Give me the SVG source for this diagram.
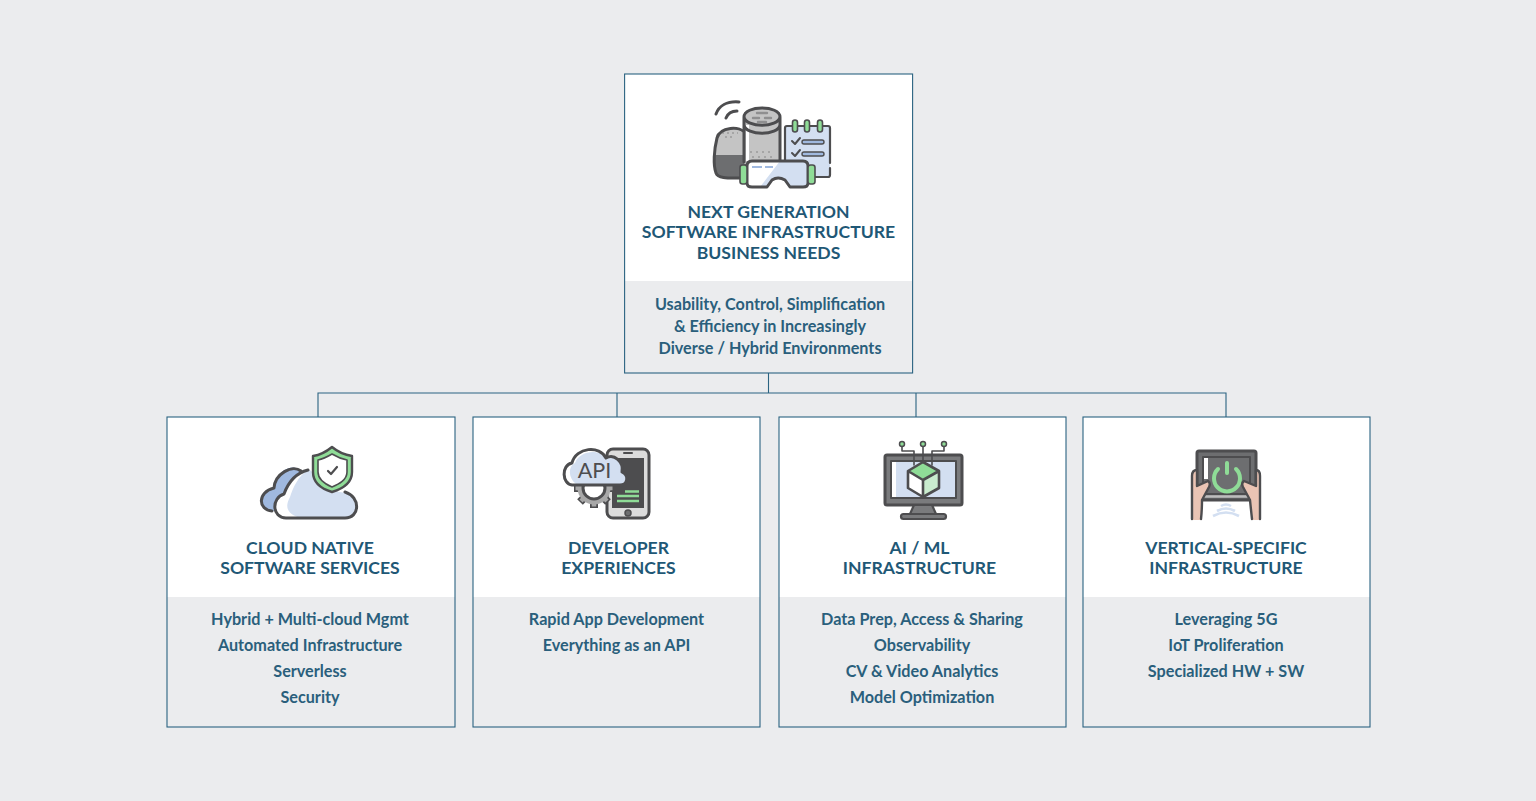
<svg xmlns="http://www.w3.org/2000/svg" width="1536" height="801" viewBox="0 0 1536 801">
<style>
.card{fill:#fff;stroke:none}
.band{fill:#ebecee}
.frame{fill:none;stroke:#2a6381;stroke-width:1.1}
.h{font-family:"Lato","Liberation Sans",sans-serif;font-weight:700;font-size:17.6px;fill:#1f5876;text-anchor:middle}
.b{font-family:"Lato","Liberation Sans",sans-serif;font-weight:700;font-size:16.2px;fill:#2a5f7c;text-anchor:middle}
.ln{fill:none;stroke:#4d4d4f;stroke-width:3;stroke-linecap:round;stroke-linejoin:round}
.thin{fill:none;stroke:#4d4d4f;stroke-width:2;stroke-linecap:round;stroke-linejoin:round}
.conn{fill:none;stroke:#2a6381;stroke-width:1.1}
.g{fill:#8fdc97}.bl{fill:#d3dff1}
.cap{fill:#8fdc97;stroke:#4d4d4f;stroke-width:1.6}
</style>
<rect width="1536" height="801" fill="#ebecee"/>
<g id="connectors">
<path class="conn" d="M768.5 373V393M318 417V393H1226V417M617 393V417M916 393V417"/>
</g>
<g id="node-top">
<rect class="card" x="625" y="74" width="287" height="299"/>
<rect class="band" x="625" y="281" width="287" height="92"/>
<rect class="frame" x="624.6" y="74" width="288" height="299"/>
<g id="icon-top">
<path class="ln" d="M716 114C719 106 727 101 739 102M726 118C728 113 732 111 737 111"/>
<path d="M716 138C716 126 744 126 746 138V178H724C716 178 714 172 714 165Z" fill="#c4c4c4"/>
<path d="M715 155H746V178H724C716 178 714 172 714 165Z" fill="#6d6e70"/>
<path d="M722 133H738M725 137H735" stroke="#9a9a9a" stroke-width="1.6" stroke-dasharray="2 3" fill="none"/>
<path class="ln" d="M746 134C740 125 720 127 717 138C714 150 713 165 716 173C718 179 730 178 741 178"/>
<rect x="744" y="112" width="36" height="52" fill="#c4c4c4"/>
<rect x="746" y="125" width="3" height="36" fill="#fff"/>
<path d="M744 117C744 105 780 105 780 117C780 129 744 129 744 117Z" fill="#c4c4c4"/>
<path class="ln" d="M744 117C744 105 780 105 780 117V164M744 117V162M744 117C746 128 778 128 780 117M744 125C746 136 778 136 780 125"/>
<path d="M757 113H767M753 118H759M765 118H771M758 122H766" stroke="#8f8f90" stroke-width="2.4" stroke-linecap="round" fill="none"/>
<path d="M750 152H774M752 157H772" stroke="#9a9a9a" stroke-width="1.6" stroke-dasharray="2 4" fill="none"/>
<path d="M785 126H830V177H800V160H785Z" fill="#d3dff1"/>
<path class="thin" d="M785 160V128Q785 126 787 126H828Q830 126 830 128V163M830 168V175Q830 177 828 177H810" style="stroke-width:2.2"/>
<rect x="792.5" y="120" width="5" height="12" rx="2.5" class="cap"/>
<rect x="804.5" y="120" width="5" height="12" rx="2.5" class="cap"/>
<rect x="817.5" y="120" width="5" height="12" rx="2.5" class="cap"/>
<path class="thin" d="M792 141L795 144L800 138M792 153L795 156L800 150"/>
<rect x="802" y="140" width="22" height="4" rx="2" fill="#a0b9df" stroke="#4d4d4f" stroke-width="1.4"/>
<rect x="802" y="152" width="22" height="4" rx="2" fill="#a0b9df" stroke="#4d4d4f" stroke-width="1.4"/>
<path d="M747 166Q747 161 752 161H803Q808 161 808 166V183Q808 187 803 187H790L785 180Q778 176 772 180L767 187H752Q747 187 747 183Z" fill="#fff"/>
<path d="M780 161H803Q808 161 808 166V183Q808 187 803 187H790L785 180Q778 176 772 180L767 187H760Z" fill="#d3dff1"/>
<path class="ln" d="M747 166Q747 161 752 161H803Q808 161 808 166V183Q808 187 803 187H790L785 180Q778 176 772 180L767 187H752Q747 187 747 183Z"/>
<rect x="740" y="165" width="7" height="19" rx="2.5" class="cap"/>
<rect x="808" y="165" width="7" height="19" rx="2.5" class="cap"/>
<path d="M752 167H762M765 167H773" stroke="#a0b9df" stroke-width="2" fill="none"/>
</g>
<text class="h" x="768.5" y="217.5">NEXT GENERATION</text>
<text class="h" x="768.5" y="238">SOFTWARE INFRASTRUCTURE</text>
<text class="h" x="768.5" y="258.5">BUSINESS NEEDS</text>
<text class="b" x="770" y="309.5">Usability, Control, Simplification</text>
<text class="b" x="770" y="331.5">&amp; Efficiency in Increasingly</text>
<text class="b" x="770" y="353.5">Diverse / Hybrid Environments</text>
</g>
<g id="node-cloud">
<rect class="card" x="167" y="417" width="288" height="310"/>
<rect class="band" x="167" y="597" width="288" height="130"/>
<rect class="frame" x="167" y="417" width="288" height="310"/>
<g id="icon-cloud">
<path d="M272 511C258 510 257 492 274 488C274 474 290 462 300 470L288 511Z" fill="#a0b9df"/>
<path class="ln" d="M272 511C258 510 257 492 274 488C275 474 292 464 301 471"/>
<path d="M286 518C272 518 271 498 284 494C288 482 296 474 310 470L330 490L345 493C360 496 360 518 345 518Z" fill="#d3dff1"/>
<path d="M286 518C272 518 271 498 284 494C288 482 296 474 308 470C298 476 293 488 290 497C284 508 288 514 300 518Z" fill="#fff"/>
<path class="ln" d="M308 470C296 473 288 483 284 494C271 498 272 518 286 518H345C360 518 361 497 345 492"/>
<path d="M332 447C338 452 345 455 352 456V472C352 483 342 489 332 492C322 489 313 483 313 472V456C320 455 326 452 332 447Z" fill="#8fdc97" stroke="#4d4d4f" stroke-width="2.4" stroke-linejoin="round"/>
<path d="M332 454C337 457 342 459 347 460V472C347 480 339 484 332 487C325 484 318 480 318 472V460C323 459 327 457 332 454Z" fill="#fff" stroke="#4d4d4f" stroke-width="1.6" stroke-linejoin="round"/>
<path class="thin" d="M328 471L331 474L337 467" style="stroke-width:2.2"/>
</g>
<text class="h" x="310" y="553.5">CLOUD NATIVE</text>
<text class="h" x="310" y="573.5">SOFTWARE SERVICES</text>
<text class="b" x="310" y="624.5">Hybrid + Multi-cloud Mgmt</text>
<text class="b" x="310" y="650.5">Automated Infrastructure</text>
<text class="b" x="310" y="676.5">Serverless</text>
<text class="b" x="310" y="702.5">Security</text>
</g>
<g id="node-dev">
<rect class="card" x="473" y="417" width="287" height="310"/>
<rect class="band" x="473" y="597" width="287" height="130"/>
<rect class="frame" x="473" y="417" width="287" height="310"/>
<g id="icon-dev">
<rect x="607" y="449" width="42" height="69" rx="6" fill="#dcdcdc"/>
<rect x="612" y="458" width="32" height="50" fill="#4d4d4f"/>
<rect x="607" y="449" width="42" height="69" rx="6" class="ln"/>
<path d="M624 453H632" class="thin"/>
<circle cx="628" cy="513" r="3" fill="#6d6e70" stroke="#4d4d4f" stroke-width="1.5"/>
<path d="M625 491.5H639M617 496H639M617 501H639" stroke="#8fdc97" stroke-width="2.4" fill="none"/>
<g id="gear">
<path d="M574 488H614M580 474L608 502M594 468V508M608 474L580 502" stroke="#4d4d4f" stroke-width="8" fill="none"/>
<path d="M575.5 488H612.5M581 475L607 501M594 469.5V506.5M607 475L581 501" stroke="#a8a8a8" stroke-width="4.5" fill="none"/>
<circle cx="594" cy="488" r="16.5" fill="#a8a8a8"/>
<circle cx="594" cy="488" r="11" fill="#fff" stroke="#4d4d4f" stroke-width="3"/>
</g>
<path d="M572 485C562 484 561 465 572 463C576 447 600 445 606 458C614 453 624 462 622 472C630 476 627 485 620 485Z" fill="#fff"/>
<path d="M576 484C568 478 568 466 575 463C580 450 600 449 606 458C614 453 624 462 622 472C630 476 627 484 620 484Z" fill="#d3dff1"/>
<path class="ln" d="M572 485C562 484 561 465 572 463C576 447 600 445 606 458C614 453 624 462 622 472C630 476 627 485 620 485H572"/>
<text x="594.5" y="478" font-family="Lato,'Liberation Sans',sans-serif" font-size="21.5" fill="#4d4d4f" text-anchor="middle">API</text>
</g>
<text class="h" x="618.5" y="553.5">DEVELOPER</text>
<text class="h" x="618.5" y="573.5">EXPERIENCES</text>
<text class="b" x="616.5" y="624.5">Rapid App Development</text>
<text class="b" x="616.5" y="650.5">Everything as an API</text>
</g>
<g id="node-ai">
<rect class="card" x="779" y="417" width="287" height="310"/>
<rect class="band" x="779" y="597" width="287" height="130"/>
<rect class="frame" x="779" y="417" width="287" height="310"/>
<g id="icon-ai">
<rect x="885" y="455" width="77" height="50" rx="2" fill="#7a7b7d"/>
<rect x="891" y="461" width="65" height="37" fill="#d3dff1"/>
<rect x="891" y="461" width="5" height="37" fill="#fff"/>
<rect x="885" y="455" width="77" height="50" rx="2" class="ln"/>
<rect x="891" y="461" width="65" height="37" class="thin"/>
<path d="M914 505H932L936 514H910Z" fill="#7a7b7d" stroke="#4d4d4f" stroke-width="2.2" stroke-linejoin="round"/>
<rect x="901" y="514" width="45" height="5" rx="2.5" fill="#7a7b7d" stroke="#4d4d4f" stroke-width="2.2"/>
<path class="thin" d="M902 446V451H914V465M923 446V463M944 446V451H932V465" style="stroke-width:1.6"/>
<circle cx="902" cy="444" r="2.5" class="g" stroke="#4d4d4f" stroke-width="1.5"/>
<circle cx="923" cy="444" r="2.5" class="g" stroke="#4d4d4f" stroke-width="1.5"/>
<circle cx="944" cy="444" r="2.5" class="g" stroke="#4d4d4f" stroke-width="1.5"/>
<path d="M923 462L939 471V488L923 497L908 488V471Z" fill="#fff"/>
<path d="M923 462L939 471L923 480L908 471Z" class="g"/>
<path d="M939 471V488L923 497V480Z" fill="#c9ecce"/>
<path d="M923 462L939 471V488L923 497L908 488V471ZM908 471L923 480L939 471M923 480V497" class="ln" style="stroke-width:2.6"/>
</g>
<text class="h" x="919.5" y="553.5">AI / ML</text>
<text class="h" x="919.5" y="573.5">INFRASTRUCTURE</text>
<text class="b" x="922" y="624.5">Data Prep, Access &amp; Sharing</text>
<text class="b" x="922" y="650.5">Observability</text>
<text class="b" x="922" y="676.5">CV &amp; Video Analytics</text>
<text class="b" x="922" y="702.5">Model Optimization</text>
</g>
<g id="node-vertical">
<rect class="card" x="1083" y="417" width="287" height="310"/>
<rect class="band" x="1083" y="597" width="287" height="130"/>
<rect class="frame" x="1083" y="417" width="287" height="310"/>
<g id="icon-vertical">
<rect x="1197" y="451" width="59" height="49" rx="2" fill="#6d6e70"/>
<rect x="1203" y="457" width="5" height="22" fill="#fff"/>
<path d="M1203 496.5H1250" stroke="#bdbdbd" stroke-width="2.4"/>
<rect x="1197" y="451" width="59" height="49" rx="2" class="ln"/>
<path class="thin" d="M1203 494V457H1250V494H1203"/>
<path d="M1218 469A13 13 0 1 0 1236 469" fill="none" stroke="#8fdc97" stroke-width="4" stroke-linecap="round"/>
<path d="M1227 463V473" stroke="#8fdc97" stroke-width="4" stroke-linecap="round"/>
<path d="M1192 520V476Q1192 470 1197 470V486L1208 481Q1211 483 1209 487L1202 500Q1202 510 1201 520Z" fill="#eac4b4"/>
<path d="M1260 520V476Q1260 470 1256 470V486L1244 481Q1241 483 1243 487L1250 500Q1251 510 1252 520Z" fill="#eac4b4"/>
<path class="ln" d="M1192 519V476Q1192 470 1197 470V486L1208 481Q1211 483 1209 487L1202 500Q1202 510 1201 519M1260 519V476Q1260 470 1256 470V486L1244 481Q1241 483 1243 487L1250 500Q1251 510 1252 519" style="stroke-width:2.4"/>
<path d="M1221 506Q1226 503 1231 506M1217 511Q1226 506 1235 511M1213 516Q1226 509 1239 516" fill="none" stroke="#d3dff1" stroke-width="2.6"/>
</g>
<text class="h" x="1226" y="553.5">VERTICAL-SPECIFIC</text>
<text class="h" x="1226" y="573.5">INFRASTRUCTURE</text>
<text class="b" x="1226" y="624.5">Leveraging 5G</text>
<text class="b" x="1226" y="650.5">IoT Proliferation</text>
<text class="b" x="1226" y="676.5">Specialized HW + SW</text>
</g>
</svg>
